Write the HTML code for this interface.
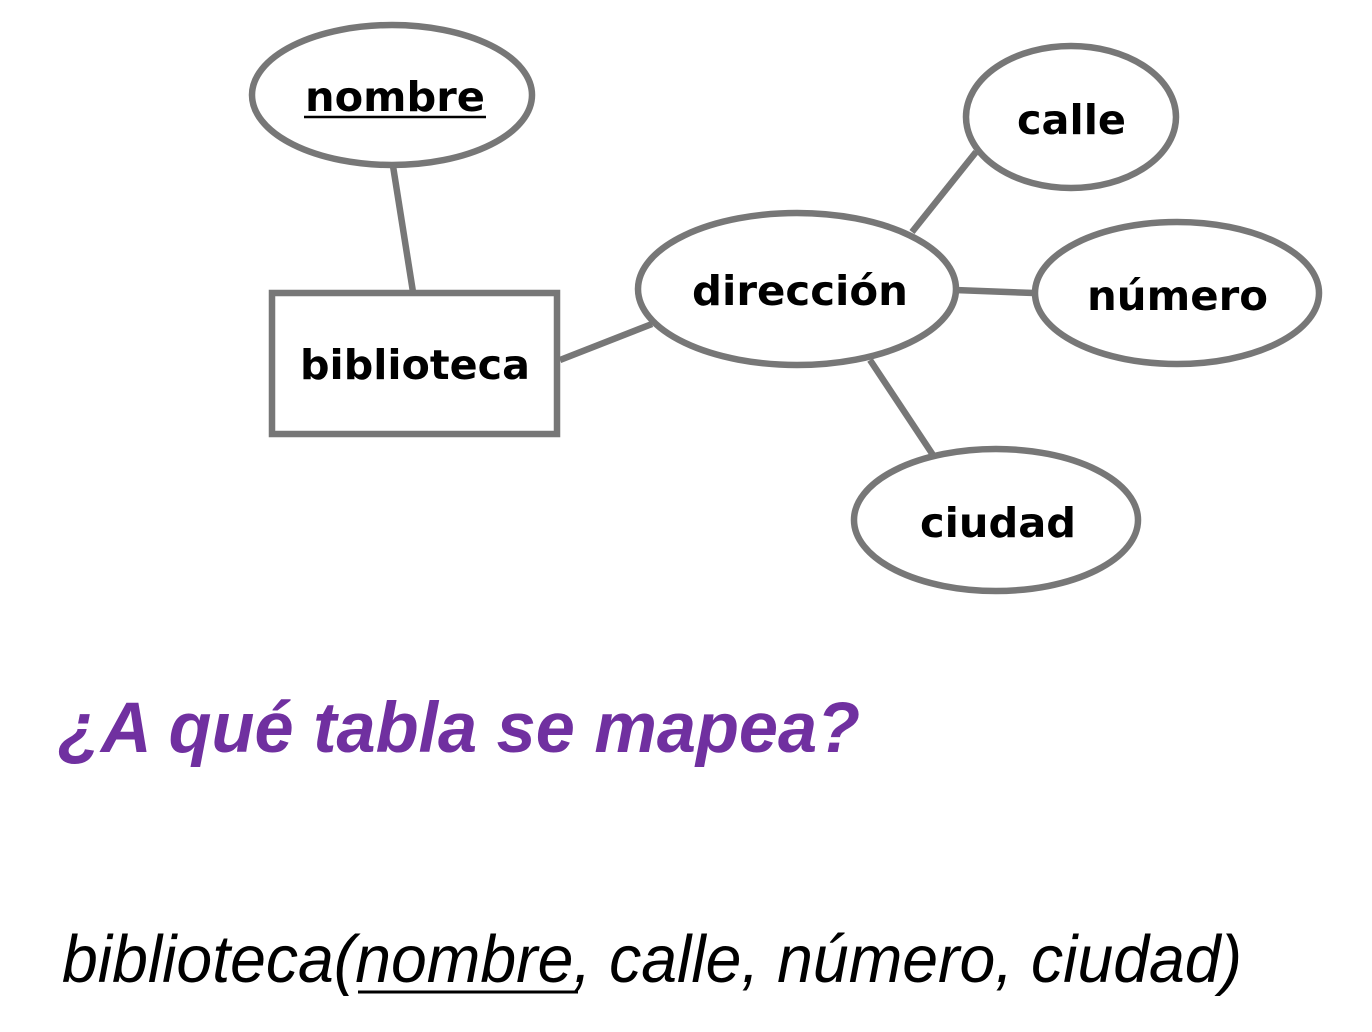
<!DOCTYPE html>
<html><head><meta charset="utf-8"><style>html,body{margin:0;padding:0;background:#fff}svg{display:block}</style></head>
<body>
<svg width="1372" height="1032" viewBox="0 0 1372 1032" xmlns="http://www.w3.org/2000/svg">
<g stroke="#777" stroke-width="6.5" fill="none">
<line x1="393" y1="166" x2="413" y2="292"/>
<line x1="560" y1="360" x2="652" y2="324"/>
<line x1="912" y1="232" x2="976" y2="152"/>
<line x1="955" y1="290" x2="1034" y2="293"/>
<line x1="870" y1="360" x2="933" y2="455"/>
<ellipse cx="392" cy="95" rx="140" ry="70" fill="#fff"/>
<rect x="272" y="293" width="285" height="141" fill="#fff"/>
<ellipse cx="797" cy="289" rx="159" ry="76" fill="#fff"/>
<ellipse cx="1071" cy="117" rx="105" ry="71" fill="#fff"/>
<ellipse cx="1177" cy="293" rx="142" ry="71" fill="#fff"/>
<ellipse cx="996" cy="520" rx="142" ry="71" fill="#fff"/>
</g>
<g font-family="'DejaVu Sans', sans-serif" font-weight="bold" font-size="41" fill="#000">
<text x="305" y="111" textLength="180" lengthAdjust="spacingAndGlyphs">nombre</text>
<line x1="304" y1="117" x2="486" y2="117" stroke="#000" stroke-width="2.5"/>
<text x="300" y="379" textLength="230" lengthAdjust="spacingAndGlyphs">biblioteca</text>
<text x="692" y="305" textLength="216" lengthAdjust="spacingAndGlyphs">dirección</text>
<text x="1017" y="134" textLength="109" lengthAdjust="spacingAndGlyphs">calle</text>
<text x="1087" y="310" textLength="181" lengthAdjust="spacingAndGlyphs">número</text>
<text x="920" y="537" textLength="156" lengthAdjust="spacingAndGlyphs">ciudad</text>
</g>
<text x="58" y="752" font-family="'Liberation Sans', sans-serif" font-weight="bold" font-style="italic" font-size="71" fill="#7030a0" textLength="802" lengthAdjust="spacingAndGlyphs">¿A qué tabla se mapea?</text>
<text x="62" y="982" font-family="'Liberation Sans', sans-serif" font-style="italic" font-size="67" fill="#000" textLength="1180" lengthAdjust="spacingAndGlyphs">biblioteca(nombre, calle, número, ciudad)</text>
<line x1="358" y1="992" x2="578" y2="992" stroke="#000" stroke-width="3"/>
</svg>
</body></html>
